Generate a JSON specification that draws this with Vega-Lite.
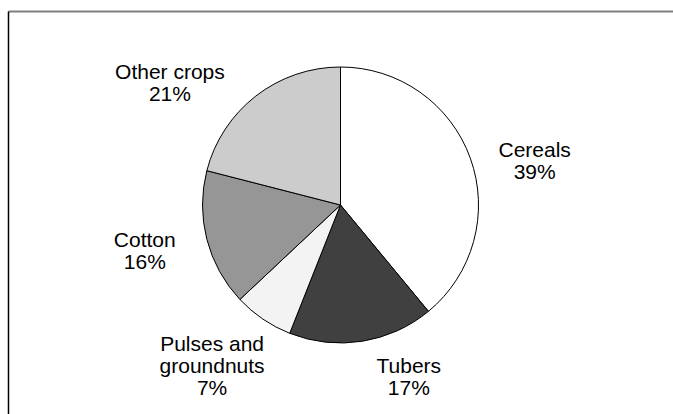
{
  "$schema": "https://vega.github.io/schema/vega-lite/v6.json",
  "width": 665,
  "height": 403,
  "autosize": "none",
  "padding": {"left": 8, "top": 11, "right": 0, "bottom": 0},
  "background": "white",
  "config": {"view": {"stroke": null}},
  "data": {"values": [
    {"crop": "Cereals", "share": 39, "label": "Cereals\n39%", "rank": 1},
    {"crop": "Tubers", "share": 17, "label": "Tubers\n17%", "rank": 2},
    {"crop": "Pulses and groundnuts", "share": 7, "label": "Pulses and\ngroundnuts\n7%", "rank": 3},
    {"crop": "Cotton", "share": 16, "label": "Cotton\n16%", "rank": 4},
    {"crop": "Other crops", "share": 21, "label": "Other crops\n21%", "rank": 5}
  ]},
  "transform": [
    {"stack": "share", "groupby": [], "sort": [{"field": "rank", "order": "ascending"}], "as": ["t0", "t1"]},
    {"calculate": "(datum.t0 + datum.t1) / 2", "as": "tm"}
  ],
  "layer": [
    {
      "mark": {"type": "point", "opacity": 0},
      "encoding": {
        "x": {"field": "share", "type": "quantitative", "axis": {"orient": "top", "labels": false, "ticks": false, "grid": false, "title": null, "domainColor": "#7f7f7f", "domainWidth": 2}},
        "y": {"field": "share", "type": "quantitative", "axis": {"orient": "left", "labels": false, "ticks": false, "grid": false, "title": null, "domainColor": "#000000", "domainWidth": 1.5}}
      }
    },
    {
      "mark": {"type": "arc", "outerRadius": 138, "stroke": "black", "strokeWidth": 1, "yOffset": -7.5},
      "encoding": {
        "theta": {"field": "t0", "type": "quantitative", "scale": {"domain": [0, 100]}},
        "theta2": {"field": "t1"},
        "color": {
          "field": "crop", "type": "nominal", "legend": null,
          "scale": {
            "domain": ["Cereals", "Tubers", "Pulses and groundnuts", "Cotton", "Other crops"],
            "range": ["#ffffff", "#404040", "#f3f3f3", "#969696", "#cccccc"]
          }
        }
      }
    },
    {
      "transform": [{"filter": "datum.crop == 'Cereals'"}],
      "mark": {"type": "text", "radius": 200, "yOffset": -7.5, "dx": 6, "dy": 14, "font": "Liberation Sans", "fontSize": 21, "lineHeight": 22, "lineBreak": "\n", "align": "center", "baseline": "middle", "color": "black"},
      "encoding": {"theta": {"field": "tm", "type": "quantitative", "scale": {"domain": [0, 100]}}, "text": {"field": "label"}}
    },
    {
      "transform": [{"filter": "datum.crop == 'Tubers'"}],
      "mark": {"type": "text", "radius": 200, "yOffset": -7.5, "dx": 37, "dy": -36, "font": "Liberation Sans", "fontSize": 21, "lineHeight": 22, "lineBreak": "\n", "align": "center", "baseline": "middle", "color": "black"},
      "encoding": {"theta": {"field": "tm", "type": "quantitative", "scale": {"domain": [0, 100]}}, "text": {"field": "label"}}
    },
    {
      "transform": [{"filter": "datum.crop == 'Pulses and groundnuts'"}],
      "mark": {"type": "text", "radius": 200, "yOffset": -7.5, "dx": -16, "dy": -25, "font": "Liberation Sans", "fontSize": 21, "lineHeight": 22, "lineBreak": "\n", "align": "center", "baseline": "middle", "color": "black"},
      "encoding": {"theta": {"field": "tm", "type": "quantitative", "scale": {"domain": [0, 100]}}, "text": {"field": "label"}}
    },
    {
      "transform": [{"filter": "datum.crop == 'Cotton'"}],
      "mark": {"type": "text", "radius": 200, "yOffset": -7.5, "dx": -2, "dy": -14, "font": "Liberation Sans", "fontSize": 21, "lineHeight": 22, "lineBreak": "\n", "align": "center", "baseline": "middle", "color": "black"},
      "encoding": {"theta": {"field": "tm", "type": "quantitative", "scale": {"domain": [0, 100]}}, "text": {"field": "label"}}
    },
    {
      "transform": [{"filter": "datum.crop == 'Other crops'"}],
      "mark": {"type": "text", "radius": 200, "yOffset": -7.5, "dx": -48, "dy": 26, "font": "Liberation Sans", "fontSize": 21, "lineHeight": 22, "lineBreak": "\n", "align": "center", "baseline": "middle", "color": "black"},
      "encoding": {"theta": {"field": "tm", "type": "quantitative", "scale": {"domain": [0, 100]}}, "text": {"field": "label"}}
    }
  ]
}
